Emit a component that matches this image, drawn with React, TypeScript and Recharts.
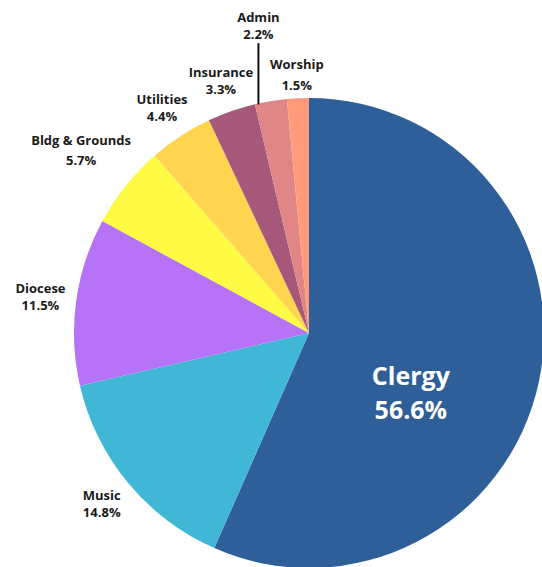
import React from "react";
import { PieChart, Pie, Cell } from "recharts";

const categories = ["Clergy", "Music", "Diocese", "Bldg & Grounds", "Utilities", "Insurance", "Admin", "Worship"];
const shares = [56.6, 14.8, 11.5, 5.7, 4.4, 3.3, 2.2, 1.5];
const colors = ["#2E5F99", "#40B7D5", "#B673F8", "#FFFA44", "#FFD44F", "#A5587A", "#E18686", "#FF9B7A"];

const data = categories.map((name, i) => ({ name, value: shares[i] }));

// extra distance of each label beyond the rim (Clergy is drawn inside)
const labelGap = [0, 34, 36, 57, 34, 32, 76, 23];
// line spacing between name and percentage
const labelLead = [0, 17, 17, 20, 17, 17, 17, 21];

const RADIAN = Math.PI / 180;
const FONT = "'Open Sans', sans-serif";

const renderLabel = (props: any) => {
	const { cx, cy, midAngle, outerRadius, index, name, value } = props;
	if (index === 0) {
		const ang = (midAngle - 18) * RADIAN;
		const r = outerRadius * 0.5;
		const x = cx + r * Math.cos(-ang);
		const y = cy + r * Math.sin(-ang);
		return (
			<text x={x} y={y} fill="#ffffff" textAnchor="middle" fontFamily={FONT} fontWeight={700} fontSize={25}>
				<tspan x={x} y={y - 7}>{name}</tspan>
				<tspan x={x} y={y + 27}>{value.toFixed(1)}%</tspan>
			</text>
		);
	}
	const r = outerRadius + labelGap[index];
	const x = cx + r * Math.cos(-midAngle * RADIAN);
	const y = cy + r * Math.sin(-midAngle * RADIAN);
	const lead = labelLead[index];
	const top = y - 4 - (lead - 17) / 2;
	let line = null;
	if (name === "Admin") {
		const dx = x - cx;
		const edgeY = cy - Math.sqrt(outerRadius * outerRadius - dx * dx);
		line = <line x1={x} y1={y + 17} x2={x} y2={edgeY + 1} stroke="#111" strokeWidth={2} />;
	}
	return (
		<g>
			{line}
			<text x={x} y={y} fill="#1a1a1a" textAnchor="middle" fontFamily={FONT} fontWeight={700} fontSize={13}>
				<tspan x={x} y={top}>{name}</tspan>
				<tspan x={x} y={top + lead}>{value.toFixed(1)}%</tspan>
			</text>
		</g>
	);
};

export default function App() {
	return (
		<div style={{ width: 542, height: 567, background: "#ffffff" }}>
			<style>{`body{margin:0}`}</style>
			<PieChart width={542} height={567} margin={{ top: 0, right: 0, bottom: 0, left: 0 }}>
				<Pie
					data={data}
					dataKey="value"
					nameKey="name"
					cx={309}
					cy={333}
					outerRadius={235}
					startAngle={90}
					endAngle={-270}
					stroke="none"
					label={renderLabel}
					labelLine={false}
					isAnimationActive={false}
				>
					{data.map((d, i) => (
						<Cell key={d.name} fill={colors[i]} />
					))}
				</Pie>
			</PieChart>
		</div>
	);
}
